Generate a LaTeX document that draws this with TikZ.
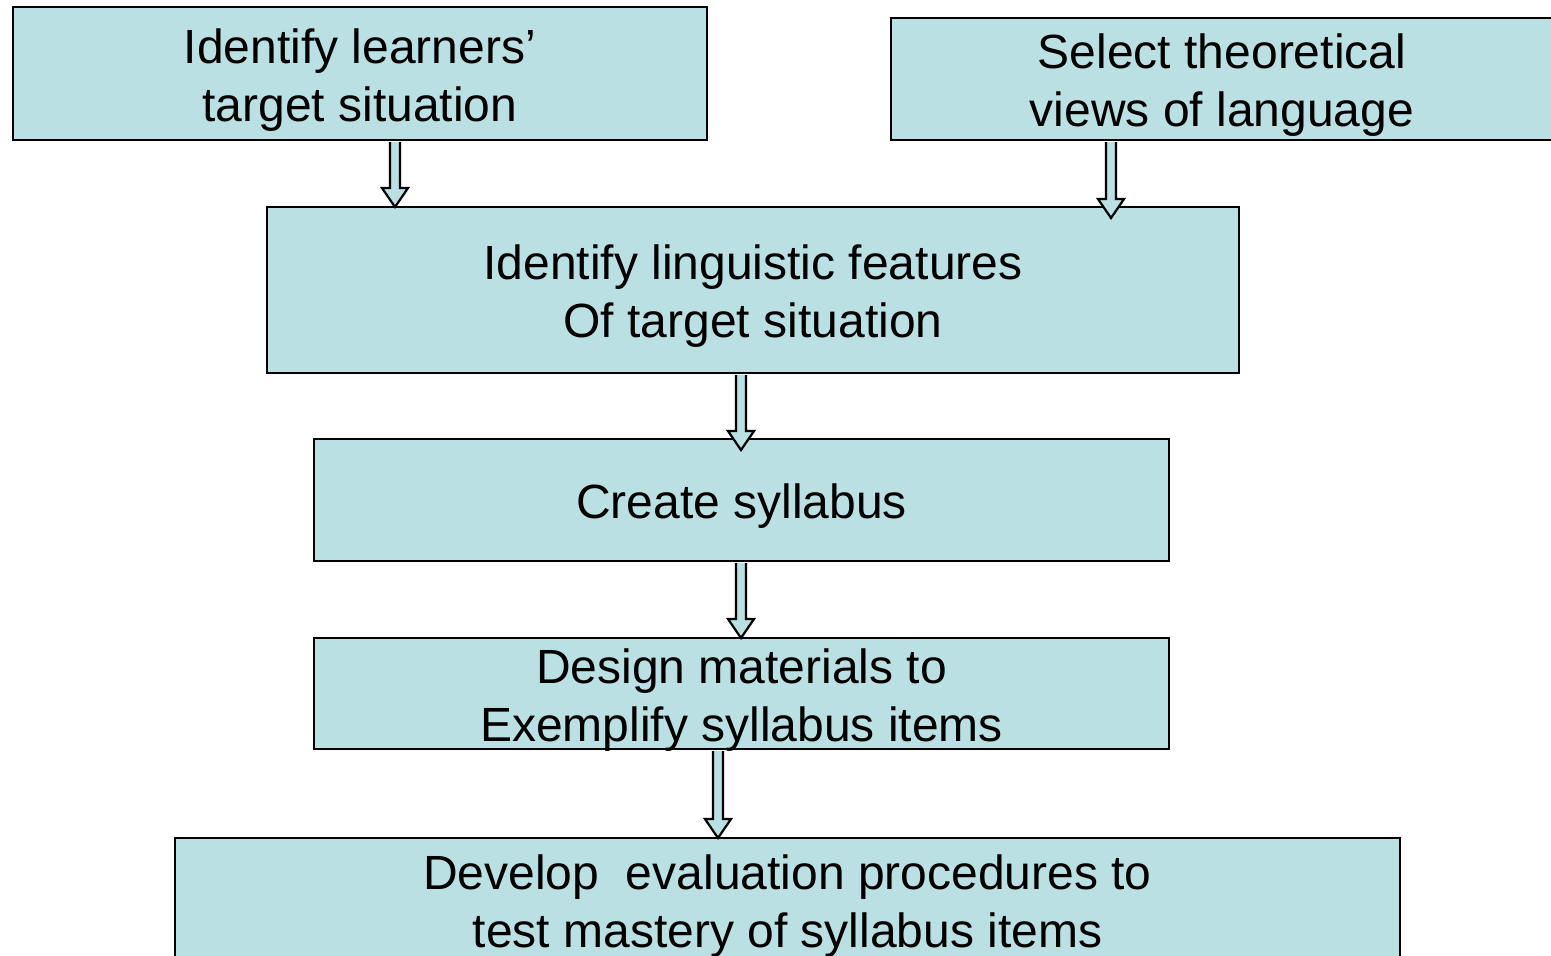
\documentclass[tikz,border=0pt]{standalone}
\usepackage{fontspec}
\setmainfont{Liberation Sans}
\usepackage{tikz}
\usetikzlibrary{calc}
\definecolor{boxfill}{RGB}{186,224,227}

\tikzset{
  stage/.style={draw,fill=boxfill,line width=1.2pt,inner sep=0pt},
  every label/.style={align=center,inner sep=0pt,yshift=-3.2pt,font=\fontsize{24}{29}\selectfont},
  flow/.style={draw,fill=boxfill,line width=1.1pt,line join=miter}
}
% block arrow: #1 start, #2 tip
\newcommand{\flowarrow}[2]{%
  \path[flow] ($(#1)+(-5,1)$) -- ($(#2)+(-5,-19)$) -- ($(#2)+(-13,-19)$)
    -- (#2) -- ($(#2)+(13,-19)$) -- ($(#2)+(5,-19)$) -- ($(#1)+(5,1)$);
}

\begin{document}
\begin{tikzpicture}[x=0.5pt,y=-0.5pt]
    \useasboundingbox (0,0) rectangle (1551,955);
    \clip (0,0) rectangle (1551,955);

    % sizes in pt (half the pixel sizes)
    \node[stage,minimum width=347pt,minimum height=66.5pt,label={center:Identify learners’\\target situation}] (lt) at (360,73.5) {};
    \node[stage,minimum width=331pt,minimum height=61pt,label={center:Select theoretical\\views of language}] (rt) at (1222,79) {};
    \node[stage,minimum width=486pt,minimum height=83pt,label={center:Identify linguistic features\\Of target situation}] (feat) at (753,290) {};
    \node[stage,minimum width=427.5pt,minimum height=61pt,label={center:Create syllabus}] (syl) at (741.5,500) {};
    \node[stage,minimum width=427.5pt,minimum height=55.5pt,label={center:Design materials to\\Exemplify syllabus items}] (mat) at (741.5,693.5) {};
    \node[stage,minimum width=612.5pt,minimum height=62pt,label={center:Develop\ \ evaluation procedures to\\test mastery of syllabus items}] (eval) at (787.5,900) {};

    \coordinate (t1) at (395,207);
    \coordinate (t2) at (1111,218);
    \coordinate (t3) at (741,450);
    \coordinate (t4) at (741,638);
    \coordinate (t5) at (718,838);

    \flowarrow{lt.south -| t1}{t1}
    \flowarrow{rt.south -| t2}{t2}
    \flowarrow{feat.south -| t3}{t3}
    \flowarrow{syl.south -| t4}{t4}
    \flowarrow{mat.south -| t5}{t5}
\end{tikzpicture}
\end{document}
